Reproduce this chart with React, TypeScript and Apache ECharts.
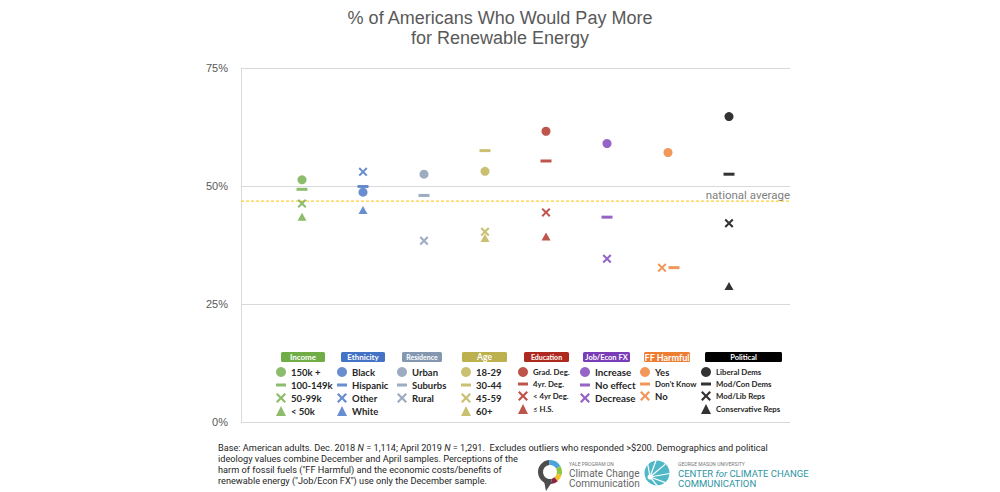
import React, { useEffect, useRef } from "react";
import * as echarts from "echarts";

// ---- data ----
const groupNames = ["Income", "Ethnicity", "Residence", "Age", "Education", "Job/Econ FX", "FF Harmful", "Political"];
const groupColors = ["#70AD47", "#4472C4", "#8497B0", "#BDB04F", "#AE2A20", "#7A3DB8", "#ED7D31", "#000000"];

const incomeLabels = ["150k +", "100-149k", "50-99k", "< 50k"];
const incomeValues = [51.3, 49.3, 46.3, 43.5];
const ethnicityLabels = ["Black", "Hispanic", "Other", "White"];
const ethnicityValues = [48.7, 49.9, 53.0, 44.9];
const residenceLabels = ["Urban", "Suburbs", "Rural"];
const residenceValues = [52.5, 48.0, 38.4];
const ageLabels = ["18-29", "30-44", "45-59", "60+"];
const ageValues = [53.1, 57.5, 40.3, 39.0];
const educationLabels = ["Grad. Deg.", "4yr. Deg.", "< 4yr Deg.", "≤ H.S."];
const educationValues = [61.6, 55.3, 44.4, 39.3];
const jobLabels = ["Increase", "No effect", "Decrease"];
const jobValues = [59.0, 43.4, 34.6];
const ffLabels = ["Yes", "Don't Know", "No"];
const ffValues = [57.1, 32.7, 32.7];
const politicalLabels = ["Liberal Dems", "Mod/Con Dems", "Mod/Lib Reps", "Conservative Reps"];
const politicalValues = [64.7, 52.5, 42.1, 28.8];

const nationalAverage = 46.8;
const yTicks = [0, 25, 50, 75];

const titleText = "% of Americans Who Would Pay More\nfor Renewable Energy";
const footnoteLines = [
  "Base: American adults. Dec. 2018 {i|N} = 1,114; April 2019 {i|N} = 1,291.  Excludes outliers who responded >$200. Demographics and political",
  "ideology values combine December and April samples. Perceptions of the",
  "harm of fossil fuels (\"FF Harmful) and the economic costs/benefits of",
  "renewable energy (\"Job/Econ FX\") use only the December sample.",
];

const groupLabels = [incomeLabels, ethnicityLabels, residenceLabels, ageLabels, educationLabels, jobLabels, ffLabels, politicalLabels];
const groupValues = [incomeValues, ethnicityValues, residenceValues, ageValues, educationValues, jobValues, ffValues, politicalValues];

// ---- styling ----
const X_PATH = "path://M1.6,0 L5,3.4 L8.4,0 L10,1.6 L6.6,5 L10,8.4 L8.4,10 L5,6.6 L1.6,10 L0,8.4 L3.4,5 L0,1.6 Z";
const DASH_PATH = "path://M0,0 L12,0 L12,3.6 L0,3.6 Z";
const kindSymbol = ["circle", "rect", X_PATH, "triangle"];
const kindSize: any[] = [9, [11, 3], 9, [9, 8]];
const legendIcon = ["circle", DASH_PATH, X_PATH, "triangle"];

const legendLefts = [276, 337, 397, 461, 518, 580, 640, 701];
const legendFont = [9.5, 9.5, 9.5, 9.5, 7.8, 9.8, 9.5, 7.8];
const headerBoxes = [
  [281, 44], [341, 44], [402, 40], [462, 45], [524, 45], [583, 47], [644, 46], [705, 77],
];
const headerFont = [8, 8, 7, 8.5, 7, 7.5, 9, 7.5];

export default function App() {
  const ref = useRef<HTMLDivElement>(null);
  useEffect(() => {
    document.body.style.margin = "0";
    const chart = echarts.init(ref.current!, null, { renderer: "svg" });

    const series: any[] = [];
    // national average reference line
    series.push({
      type: "line",
      name: "national average",
      silent: true,
      symbol: "none",
      data: [[0, nationalAverage], [9, nationalAverage]],
      lineStyle: { color: "#FFC000", type: [3, 2], width: 1 },
      z: 1,
      markLine: {
        silent: true,
        symbol: ["none", "none"],
        data: [{ yAxis: nationalAverage }],
        lineStyle: { color: "rgba(0,0,0,0)", width: 0 },
        label: {
          show: true,
          position: "insideEndTop",
          formatter: "national average",
          color: "#7f7f7f",
          fontSize: 11.5,
          fontFamily: "Roboto",
          distance: 0,
        },
      },
    });
    groupNames.forEach((g, gi) => {
      groupLabels[gi].forEach((lab, k) => {
        let offset = [0, 0];
        if (g === "FF Harmful" && k === 1) offset = [6, 0];
        if (g === "FF Harmful" && k === 2) offset = [-6, 0];
        series.push({
          type: "scatter",
          name: lab,
          symbol: kindSymbol[k],
          symbolSize: kindSize[k],
          symbolOffset: offset,
          itemStyle: { color: groupColors[gi] },
          data: [[gi + 1, groupValues[gi][k]]],
          z: 3,
        });
      });
    });

    const legends = groupNames.map((g, gi) => ({
      orient: "vertical",
      left: legendLefts[gi],
      top: 367,
      padding: 0,
      itemGap: 3,
      itemWidth: 10,
      itemHeight: 10,
      selectedMode: false,
      textStyle: {
        fontSize: legendFont[gi],
        fontWeight: "bold",
        color: "#262626",
        fontFamily: "Lato",
      },
      data: groupLabels[gi].map((lab, k) => ({
        name: lab,
        icon: legendIcon[k],
        textStyle: g === "FF Harmful" && k === 1 ? { fontSize: 7.8 } : undefined,
      })),
    }));

    const headers: any[] = [];
    groupNames.forEach((g, gi) => {
      const [hx, hw] = headerBoxes[gi];
      headers.push({
        type: "rect",
        shape: { x: hx, y: 352, width: hw, height: 10, r: 1.5 },
        style: { fill: groupColors[gi] },
      });
      headers.push({
        type: "text",
        x: hx + hw / 2,
        y: 357,
        style: {
          text: g,
          fill: "#ffffff",
          font: `bold ${headerFont[gi]}px Lato`,
          align: "center",
          verticalAlign: "middle",
        },
      });
    });

    const deg = Math.PI / 180;
    const yc = { cx: 550, cy: 472, r: 12, r0: 7 };
    const yaleSegs = [
      ["#4D4D4D", 80, 265],
      ["#4BA3D9", 265, 330],
      ["#8DC63F", 330, 375],
      ["#F2C12E", 15, 50],
      ["#8B2346", 50, 80],
    ];
    const logo: any[] = yaleSegs.map(([c, a, b]) => ({
      type: "sector",
      shape: { ...yc, startAngle: (a as number) * deg, endAngle: (b as number) * deg },
      style: { fill: c as string },
    }));
    logo.push({
      type: "polygon",
      shape: { points: [[544, 481], [552, 482], [546, 491]] },
      style: { fill: "#4D4D4D" },
    });
    logo.push(
      { type: "text", x: 569, y: 464, style: { text: "YALE PROGRAM ON", font: "5px Roboto", fill: "#777", verticalAlign: "middle" } },
      { type: "text", x: 569, y: 473, style: { text: "Climate Change", font: "10px Roboto", fill: "#666", verticalAlign: "middle" } },
      { type: "text", x: 569, y: 483, style: { text: "Communication", font: "10px Roboto", fill: "#666", verticalAlign: "middle" } }
    );
    // GMU shell
    logo.push({
      type: "circle",
      shape: { cx: 657, cy: 473, r: 12.5 },
      style: { fill: "#4FB7C5" },
    });
    [-100, -70, -40, -10, 20, 50].forEach((a) => {
      logo.push({
        type: "line",
        shape: { x1: 650, y1: 477, x2: 650 + Math.cos(a * deg) * 20, y2: 477 + Math.sin(a * deg) * 20 },
        style: { stroke: "#ffffff", lineWidth: 1.2 },
      });
    });
    logo.push({
      type: "circle",
      shape: { cx: 650, cy: 477, r: 2.5 },
      style: { fill: "#ffffff" },
    });
    logo.push(
      { type: "text", x: 678, y: 464, style: { text: "GEORGE MASON UNIVERSITY", font: "5px Roboto", fill: "#777", verticalAlign: "middle" } },
      {
        type: "text", x: 678, y: 473,
        style: {
          text: "CENTER {i|for} CLIMATE CHANGE", font: "9.5px Roboto", fill: "#2E95A3", verticalAlign: "middle",
          rich: { i: { fontStyle: "italic", fontSize: 9.5, fontFamily: "Roboto", fill: "#2E95A3" } },
        },
      },
      { type: "text", x: 678, y: 483, style: { text: "COMMUNICATION", font: "9.5px Roboto", fill: "#2E95A3", verticalAlign: "middle" } }
    );

    const option: any = {
      animation: false,
      backgroundColor: "#ffffff",
      title: {
        text: titleText,
        left: "center",
        top: 3,
        textStyle: {
          fontSize: 18,
          fontWeight: "normal",
          color: "#595959",
          fontFamily: "Liberation Sans",
          lineHeight: 20,
        },
      },
      grid: { left: 241, right: 210, top: 68, bottom: 70 },
      xAxis: { type: "value", min: 0, max: 9, show: false },
      yAxis: {
        type: "value",
        min: yTicks[0],
        max: yTicks[yTicks.length - 1],
        interval: 25,
        axisLine: { show: true, lineStyle: { color: "#d9d9d9" } },
        axisTick: { show: false },
        splitLine: { lineStyle: { color: "#d9d9d9" } },
        axisLabel: {
          formatter: "{value}%",
          color: "#595959",
          fontSize: 11,
          fontFamily: "Liberation Sans",
          margin: 13,
        },
      },
      legend: legends,
      series,
      graphic: [
        ...headers,
        {
          type: "text",
          x: 218,
          y: 442,
          style: {
            text: footnoteLines.join("\n"),
            font: "9.2px Roboto",
            fill: "#262626",
            lineHeight: 11,
            rich: { i: { fontStyle: "italic", fontSize: 9.2, fontFamily: "Roboto", fill: "#262626" } },
          },
        },
        ...logo,
      ],
    };
    chart.setOption(option);
    return () => chart.dispose();
  }, []);
  return <div ref={ref} style={{ width: 1000, height: 492 }} />;
}
